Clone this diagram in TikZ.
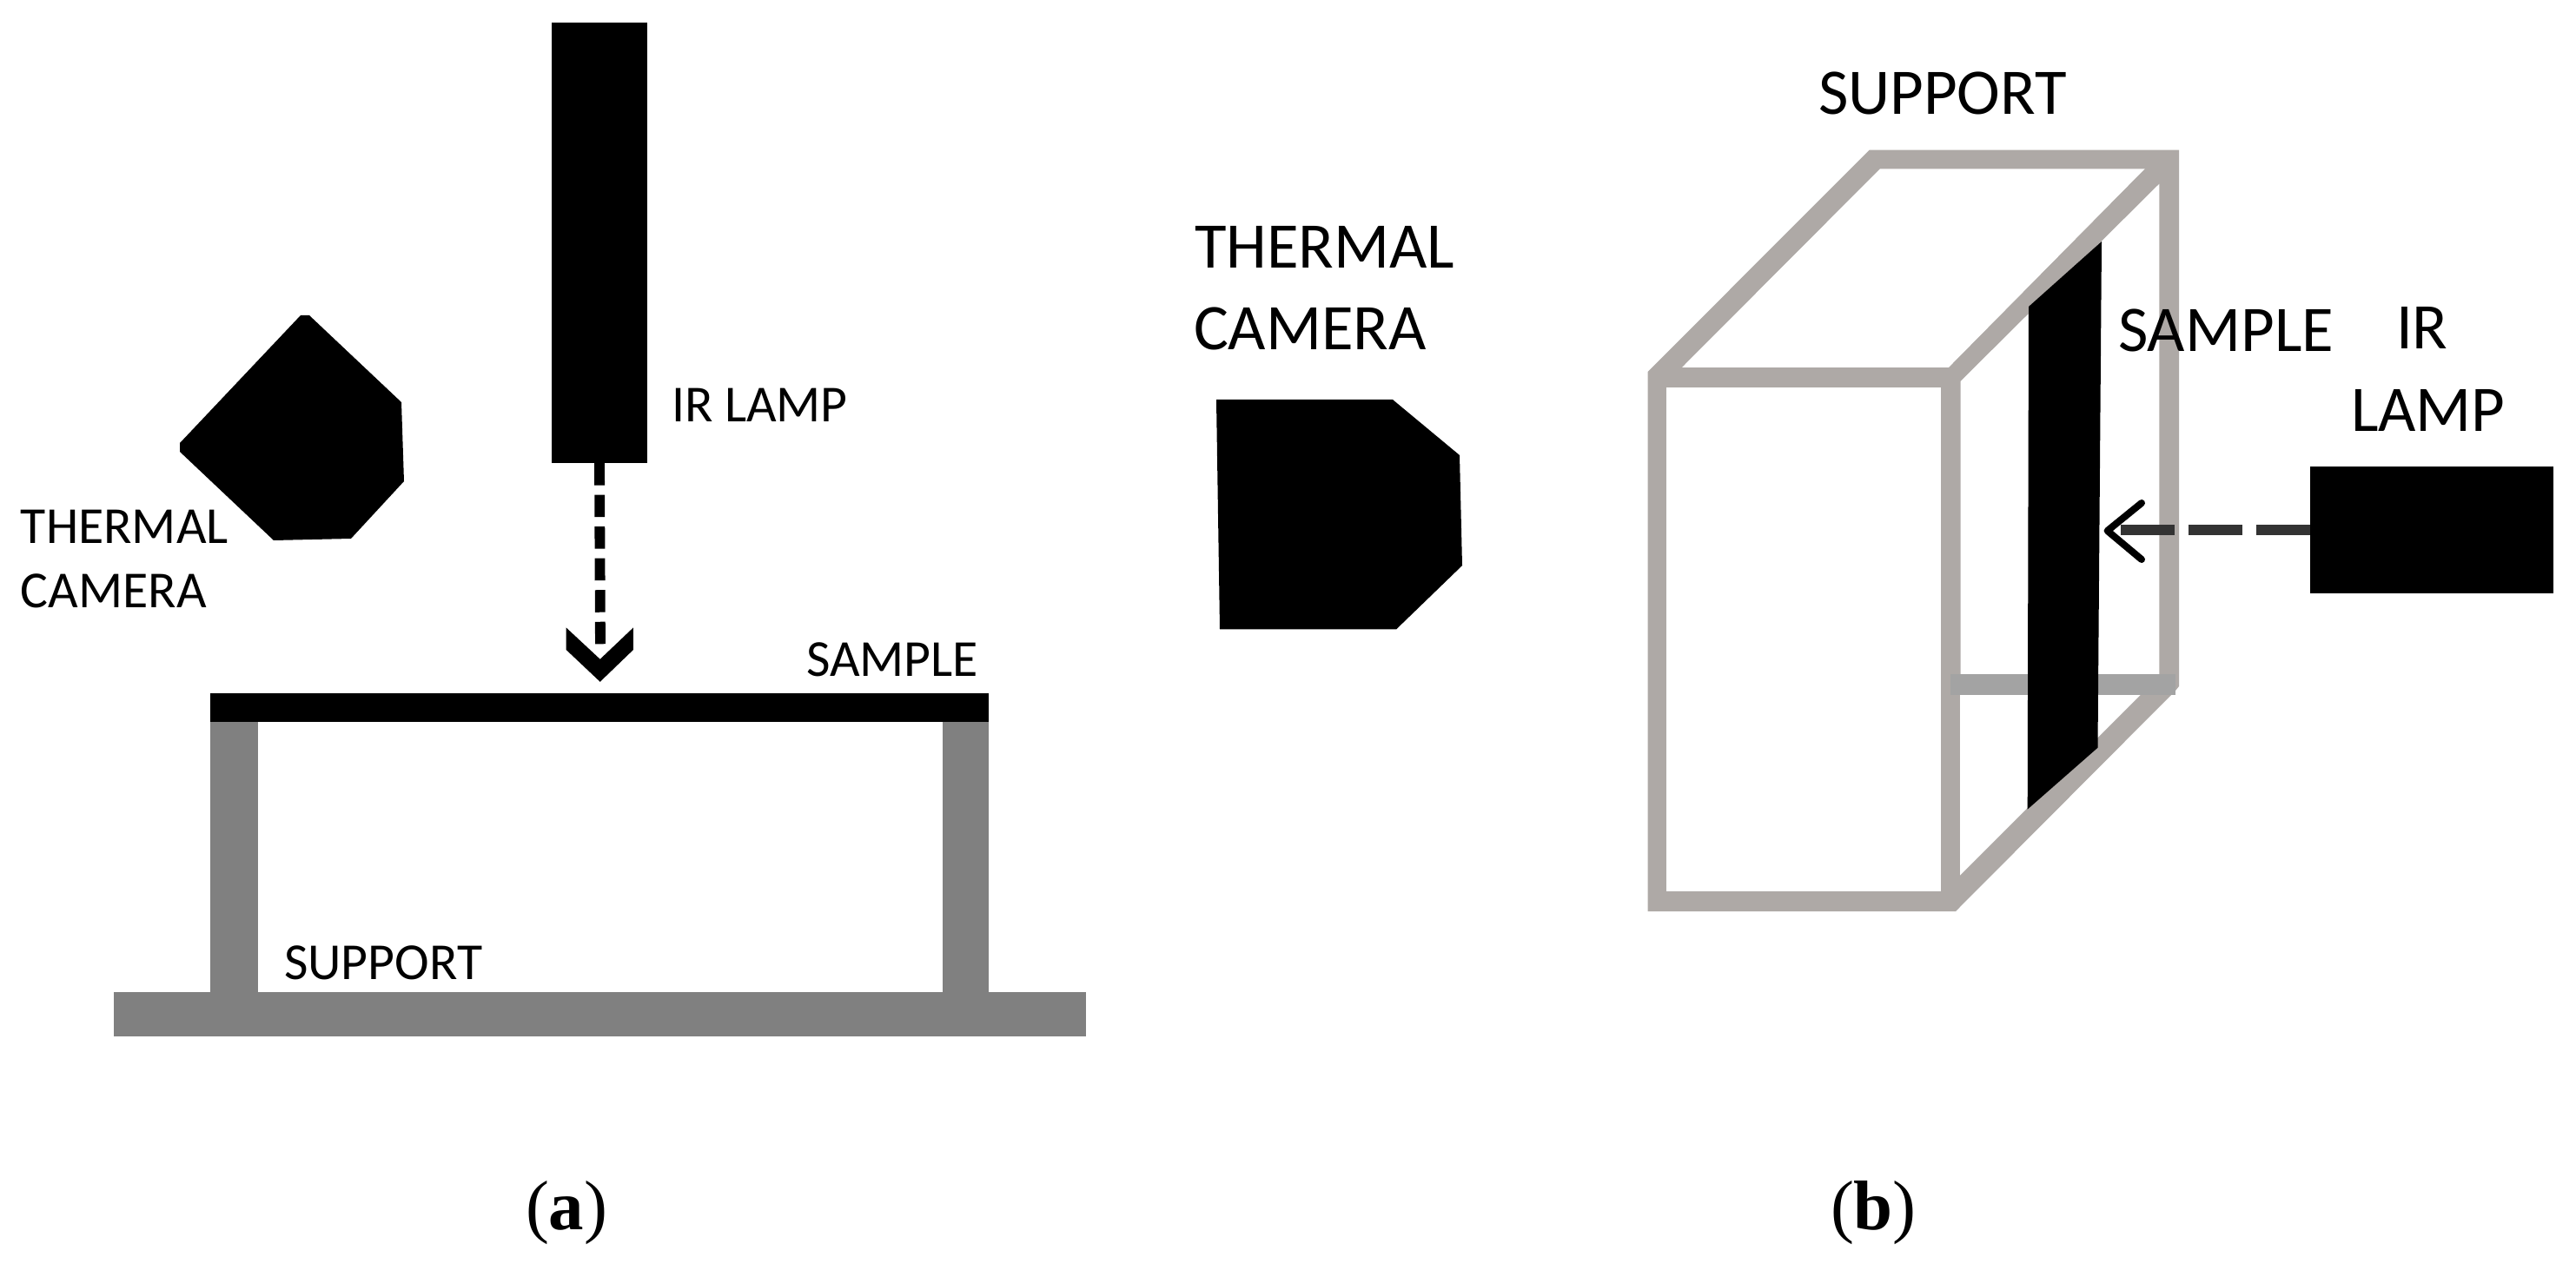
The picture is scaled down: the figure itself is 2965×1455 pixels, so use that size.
\documentclass[tikz,border=0pt]{standalone}
\usepackage{fontspec}
\setmainfont{Carlito}
\newfontfamily\capfont{Liberation Serif}
\definecolor{graya}{HTML}{808080}
\definecolor{grayb}{HTML}{AEA9A6}
\definecolor{graybar}{HTML}{A3A3A3}
\definecolor{dashb}{HTML}{333333}
\tikzset{
  lab/.style={anchor=base west,inner sep=0pt,outer sep=0pt,text=black},
  laba/.style={lab,font=\fontsize{17}{18}\selectfont},
  labb/.style={lab,font=\fontsize{21.3}{22}\selectfont},
  capt/.style={lab,font=\capfont\fontsize{23}{25}\selectfont},
}
\begin{document}
\begin{tikzpicture}[x=0.01cm,y=-0.01cm]
\path[use as bounding box,fill=white] (0,0) rectangle (2965,1455);
% panel (a)
\fill[graya] (131,1142) rectangle (1250,1193);
\fill[graya] (242,820) rectangle (297,1142);
\fill[graya] (1085,820) rectangle (1138,1142);
\fill[black] (242,798) rectangle (1138,831);
\node[fill=black,inner sep=0pt,outer sep=0pt,minimum width=1.10cm,minimum height=5.07cm] (lampA) at (690,279.5) {};
\coordinate (headA) at (691,752);
\draw[black,line width=0.118cm,dash pattern=on 0.255cm off 0.11cm] (lampA.south) -- (headA);
\fill[black] (651.7,722.5) -- (690.7,758.8) -- (728.9,722.5) -- (728.9,748) -- (690.7,784.8) -- (651.7,748) -- cycle;
\fill[black] (346,363) -- (356,363) -- (462,463) -- (465,554) -- (404,620) -- (315,622) -- (207,520) -- (207,510) -- cycle;
\node[laba] (thermA) at (24,626) {THERMAL};
\node[laba] (camA) at (24,699) {CAMERA};
\node[laba] (irA) at (773,486) {IR LAMP};
\node[laba] (sampA) at (928,779) {SAMPLE};
\node[laba] (suppA) at (327,1127) {SUPPORT};
\node[capt] (capA) at (605,1415) {(\textbf{a})};
% panel (b)
\fill[grayb] (1896.6,428) -- (2151.6,172.7) -- (2508,172.7) -- (2508,790) -- (2504,795) -- (2251,1049) -- (1896.6,1049) -- cycle;
\fill[white] (1918,446) rectangle (2234,1026);
\fill[white] (2164,194.3) -- (2468.7,194.3) -- (2242.8,423) -- (1936,423) -- cycle;
\fill[white] (2256.5,439) -- (2485.3,211.7) -- (2485.3,776.5) -- (2256.5,776.5) -- cycle;
\fill[white] (2256,799.6) -- (2464,799.6) -- (2256,1007.5) -- cycle;
\fill[graybar] (2245,776.5) rectangle (2504,799.6);
\fill[black] (2335,353) -- (2419,278) -- (2414.5,860.7) -- (2333.7,931.6) -- cycle;
\fill[black] (1400,460) -- (1603,460) -- (1680,524) -- (1683,651) -- (1607,724.5) -- (1404,724.5) -- cycle;
\node[fill=black,inner sep=0pt,outer sep=0pt,minimum width=2.795cm,minimum height=1.46cm] (lampB) at (2798.7,610) {};
\coordinate (headB) at (2441,610);
\draw[dashb,line width=0.12cm,dash pattern=on 0.62cm off 0.16cm] (lampB.west) -- (headB);
\draw[black,line width=0.08cm,line cap=round,line join=round] (2465,579) -- (2425.6,611) -- (2465,644);
\node[labb] (suppB) at (2093,132) {SUPPORT};
\node[labb] (thermB) at (1375,309) {THERMAL};
\node[labb] (camB) at (1374,403) {CAMERA};
\node[labb] (sampB) at (2438,405) {SAMPLE};
\node[labb] (irB) at (2758,402) {IR};
\node[labb] (lampBl) at (2706,497) {LAMP};
\node[capt] (capB) at (2107,1415) {(\textbf{b})};
\end{tikzpicture}
\end{document}
